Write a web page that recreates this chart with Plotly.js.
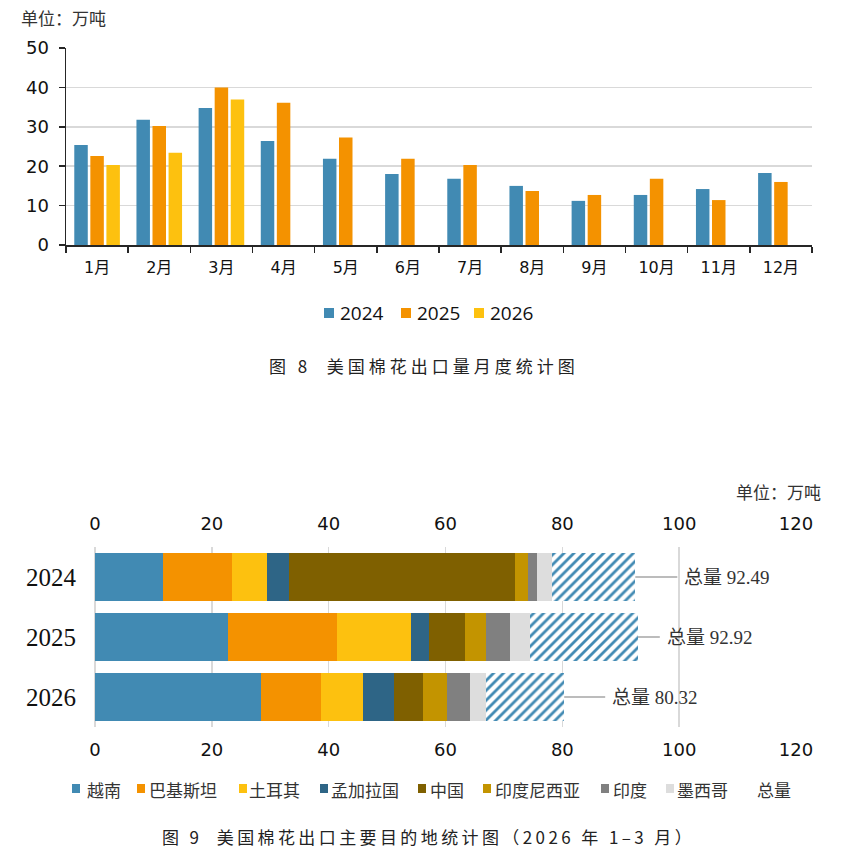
<!DOCTYPE html>
<html>
<head>
<meta charset="utf-8">
<script src="https://cdn.plot.ly/plotly-3.0.1.min.js"></script>
<style>
  html, body { margin: 0; padding: 0; background: #fff; }
  #monthly { position: absolute; left: 0; top: 0; width: 862px; height: 430px; }
  #dest { position: absolute; left: 0; top: 430px; width: 862px; height: 428px; }
</style>
</head>
<body>
<div id="monthly"></div>
<div id="dest"></div>
<script>
// ---------- Figure 8: monthly US cotton exports (10k tonnes) ----------
const months = ['1月', '2月', '3月', '4月', '5月', '6月', '7月', '8月', '9月', '10月', '11月', '12月'];
const seriesNames = ['2024', '2025', '2026'];
const export2024 = [25.4, 31.8, 34.8, 26.4, 21.9, 18.0, 16.8, 15.0, 11.2, 12.7, 14.2, 18.3];
const export2025 = [22.6, 30.2, 40.0, 36.1, 27.3, 21.9, 20.3, 13.7, 12.7, 16.8, 11.4, 16.0];
const export2026 = [20.3, 23.4, 36.9, null, null, null, null, null, null, null, null, null];
const yTicks = [0, 10, 20, 30, 40, 50];

// ---------- Figure 9: main destinations, Jan-Mar of each year ----------
const years = ['2024', '2025', '2026'];
const destinations = ['越南', '巴基斯坦', '土耳其', '孟加拉国', '中国', '印度尼西亚', '印度', '墨西哥'];
const vietnam    = [11.6, 22.7, 28.4];
const pakistan   = [11.8, 18.7, 10.3];
const turkey     = [6.1, 12.7, 7.2];
const bangladesh = [3.7, 3.1, 5.3];
const china      = [38.7, 6.2, 5.0];
const indonesia  = [2.3, 3.6, 4.1];
const india      = [1.5, 4.1, 3.9];
const mexico     = [2.6, 3.4, 2.7];
const totals     = [92.49, 92.92, 80.32];
const totalName  = '总量';
const xTicks = [0, 20, 40, 60, 80, 100, 120];

// styling
const seriesColors = ['#418ab3', '#f49200', '#fdc10f'];
const destColors = ['#418ab3', '#f49200', '#fdc10f', '#2e6586', '#7f6000', '#c39400', '#808080', '#dddddd'];
const CJK = 'Noto Sans CJK SC';
const W = 862;

/* ===================== Figure 8 ===================== */
const topH = 430;
const topM = { l: 66, r: 50, t: 48, b: 185 };
const topX = px => (px - topM.l) / (W - topM.l - topM.r);
const topY = py => 1 - (py - topM.t) / (topH - topM.t - topM.b);

const monthlySeries = [export2024, export2025, export2026];
const topTraces = monthlySeries.map((vals, i) => ({
  type: 'bar',
  name: seriesNames[i],
  x: months,
  y: vals,
  marker: { color: seriesColors[i], line: { width: 0 } },
  hoverinfo: 'x+y+name'
}));

// legend for figure 8 (swatch + label)
const topLegendX = [324, 401, 474];
const topShapes = [];
const topAnn = [];
seriesNames.forEach((nm, i) => {
  const x0 = topLegendX[i];
  topShapes.push({
    type: 'rect', xref: 'paper', yref: 'paper',
    x0: topX(x0), x1: topX(x0 + 10), y0: topY(318), y1: topY(308),
    fillcolor: seriesColors[i], line: { width: 0 }
  });
  topAnn.push({
    xref: 'paper', yref: 'paper', x: topX(x0 + 14), y: topY(313),
    xanchor: 'left', yanchor: 'middle', showarrow: false, text: nm,
    font: { family: 'Open Sans, ' + CJK, size: 19, color: '#111' }
  });
});
topAnn.push({
  xref: 'paper', yref: 'paper', x: topX(19), y: topY(18),
  xanchor: 'left', yanchor: 'middle', showarrow: false, text: '单位：万吨',
  font: { family: CJK, size: 17, color: '#333' }
});
topAnn.push({
  xref: 'paper', yref: 'paper', x: topX(424), y: topY(365),
  xanchor: 'center', yanchor: 'middle', showarrow: false,
  text: '图 8\u00a0\u00a0美国棉花出口量月度统计图',
  font: { family: CJK, size: 17, color: '#222' }
});
const topTitleIndex = topAnn.length - 1;

const topLayout = {
  width: W, height: topH,
  margin: topM,
  paper_bgcolor: '#fff', plot_bgcolor: '#fff',
  showlegend: false,
  barmode: 'group', bargap: 0.225, bargroupgap: 0.16,
  xaxis: {
    type: 'category', categoryarray: months,
    showline: true, linecolor: '#262626', linewidth: 1.5,
    ticks: 'outside', tickson: 'boundaries', ticklen: 6, tickcolor: '#262626', tickwidth: 1.5,
    ticklabelstandoff: 7,
    tickfont: { family: 'DejaVu Sans, ' + CJK, size: 16, color: '#111' },
    showgrid: false, zeroline: false, fixedrange: true
  },
  yaxis: {
    range: [0, 50], tickvals: yTicks,
    showline: true, linecolor: '#262626', linewidth: 1.5,
    ticks: 'outside', ticklen: 6, tickcolor: '#262626', tickwidth: 1.5,
    ticklabelstandoff: 6,
    showgrid: true, gridcolor: '#d9d9d9', gridwidth: 1.5,
    zeroline: false,
    tickfont: { family: 'DejaVu Sans', size: 18, color: '#111' },
    fixedrange: true
  },
  shapes: topShapes,
  annotations: topAnn
};

/* ===================== Figure 9 ===================== */
const botTop = 430;
const botH = 428;
const botM = { l: 95, r: 66, t: 117, b: 131 };
const botX = px => (px - botM.l) / (W - botM.l - botM.r);
const botY = py => 1 - (py - botTop - botM.t) / (botH - botM.t - botM.b);

const destSeries = [vietnam, pakistan, turkey, bangladesh, china, indonesia, india, mexico];
const remainder = totals.map((t, j) => t - destSeries.reduce((s, arr) => s + arr[j], 0));

const botTraces = destSeries.map((vals, i) => ({
  type: 'bar', orientation: 'h',
  name: destinations[i],
  x: vals, y: years,
  marker: { color: destColors[i], line: { width: 0 } },
  hoverinfo: 'x+name'
}));
botTraces.push({
  type: 'bar', orientation: 'h',
  name: totalName,
  x: remainder, y: years,
  customdata: totals,
  hovertemplate: '总量 %{customdata}<extra></extra>',
  marker: {
    color: '#ffffff', line: { width: 0 },
    pattern: { shape: '/', fgcolor: '#418ab3', bgcolor: '#ffffff', size: 7, solidity: 0.4, fillmode: 'replace' }
  }
});
// carries the repeated value scale underneath the bars
botTraces.push({
  type: 'scatter', mode: 'markers', x: [0, 120], y: [years[0], years[0]],
  xaxis: 'x2', yaxis: 'y', marker: { opacity: 0, size: 1 }, hoverinfo: 'skip', showlegend: false
});

// total labels with leader lines (y given as category index)
const labelOffsets = [42, 22, 41];
const botAnn = totals.map((t, j) => ({
  xref: 'x', yref: 'y', x: t, y: j,
  showarrow: true, arrowhead: 0, arrowwidth: 1.5, arrowcolor: '#a6a6a6',
  ax: labelOffsets[j], ay: 0, standoff: 0,
  xanchor: 'left', yanchor: 'middle', borderpad: 6,
  text: totalName + ' ' + t.toFixed(2),
  font: { family: 'Liberation Serif, ' + CJK, size: 19, color: '#333' }
}));

// legend for figure 9
const botLegendSwatch = [72, 137, 239, 320, 418, 483, 601, 666];
const botLegendText = [85, 147, 247, 329, 428, 493, 611, 675, 755];
const botShapes = [];
destinations.concat([totalName]).forEach((nm, i) => {
  if (i < destinations.length) {
    botShapes.push({
      type: 'rect', xref: 'paper', yref: 'paper',
      x0: botX(botLegendSwatch[i]), x1: botX(botLegendSwatch[i] + 8),
      y0: botY(793), y1: botY(784),
      fillcolor: destColors[i], line: { width: 0 }
    });
  }
  botAnn.push({
    xref: 'paper', yref: 'paper', x: botX(botLegendText[i]), y: botY(789),
    xanchor: 'left', yanchor: 'middle', showarrow: false, text: nm,
    font: { family: CJK, size: 17, color: '#333' }
  });
});
botAnn.push({
  xref: 'paper', yref: 'paper', x: botX(734), y: botY(492),
  xanchor: 'left', yanchor: 'middle', showarrow: false, text: '单位：万吨',
  font: { family: CJK, size: 17, color: '#333' }
});
botAnn.push({
  xref: 'paper', yref: 'paper', x: botX(428), y: botY(836),
  xanchor: 'center', yanchor: 'middle', showarrow: false,
  text: '图 9\u00a0\u00a0美国棉花出口主要目的地统计图（2026 年 1–3 月）',
  font: { family: CJK, size: 17, color: '#222' }
});
const botTitleIndex = botAnn.length - 1;

const xTickFont = { family: 'DejaVu Sans', size: 18, color: '#111' };
const botLayout = {
  width: W, height: botH,
  margin: botM,
  paper_bgcolor: '#fff', plot_bgcolor: '#fff',
  showlegend: false,
  barmode: 'stack', bargap: 0.21,
  xaxis: {
    side: 'top', range: [0, 120], tickvals: xTicks,
    showgrid: true, gridcolor: '#d9d9d9', gridwidth: 1.5,
    zeroline: true, zerolinecolor: '#d9d9d9', zerolinewidth: 1.5,
    showline: false, ticks: '', ticklabelstandoff: 12,
    tickfont: xTickFont, fixedrange: true
  },
  xaxis2: {
    overlaying: 'x', side: 'bottom', anchor: 'y',
    range: [0, 120], tickvals: xTicks,
    showgrid: false, zeroline: false, showline: false, ticks: '', ticklabelstandoff: 10,
    tickfont: xTickFont, fixedrange: true
  },
  yaxis: {
    type: 'category', categoryorder: 'array', categoryarray: years, autorange: 'reversed',
    showgrid: false, zeroline: false, showline: false, ticks: '',
    ticklabelstandoff: 18,
    tickfont: { family: 'Liberation Serif', size: 25, color: '#111' },
    fixedrange: true
  },
  shapes: botShapes,
  annotations: botAnn
};

const cfg = { staticPlot: true, displayModeBar: false };

// widen the tracking of the figure captions
function spaceCaption(divId, index, spacing) {
  const g = document.querySelector('#' + divId + ' .annotation[data-index="' + index + '"] text.annotation-text');
  if (g) g.style.letterSpacing = spacing;
}

Plotly.newPlot('monthly', topTraces, topLayout, cfg).then(() => {
  spaceCaption('monthly', topTitleIndex, '4px');
});
Plotly.newPlot('dest', botTraces, botLayout, cfg).then(() => {
  spaceCaption('dest', botTitleIndex, '3.4px');
});
</script>
</body>
</html>
